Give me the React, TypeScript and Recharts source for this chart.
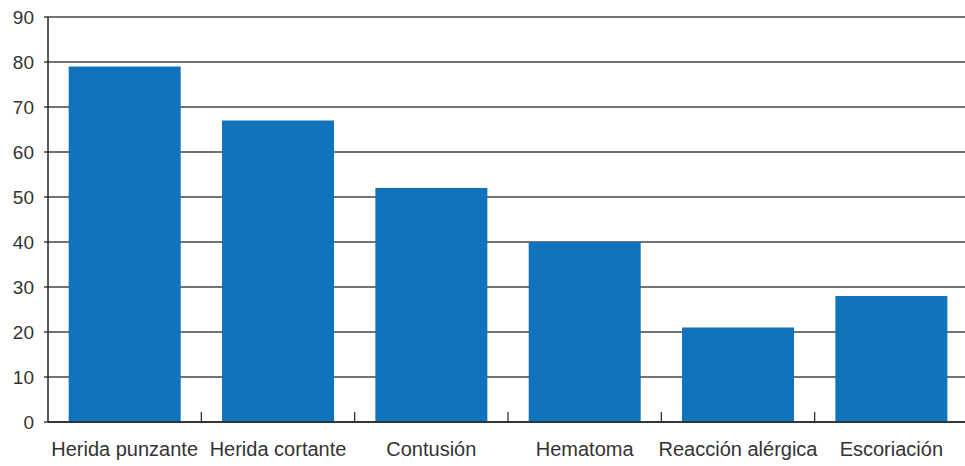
import React from "react";
import { BarChart, Bar, XAxis, YAxis, CartesianGrid } from "recharts";

const categories = [
  "Herida punzante",
  "Herida cortante",
  "Contusión",
  "Hematoma",
  "Reacción alérgica",
  "Escoriación",
];
const values = [79, 67, 52, 40, 21, 28];
const yTicks = [0, 10, 20, 30, 40, 50, 60, 70, 80, 90];

const data = categories.map((name, i) => ({ name, value: values[i] }));

const CHART_W = 968;
const CHART_H = 466;
const Y_W = 48;
const PLOT_BOTTOM = 422;
const STEP = (CHART_W - Y_W) / categories.length;

const XTick = (props: any) => {
  const { x, y, payload, index } = props;
  const bx = x + STEP / 2;
  return (
    <g>
      {index < categories.length - 1 && (
        <line x1={bx} x2={bx} y1={PLOT_BOTTOM} y2={PLOT_BOTTOM - 10} stroke="#333" strokeWidth={1.3} />
      )}
      <text
        x={x}
        y={y}
        dy="0.71em"
        textAnchor="middle"
        fill="#333"
        fontSize={20}
        fontFamily="'Liberation Sans', Arial, sans-serif"
      >
        {payload.value}
      </text>
    </g>
  );
};

export default function App() {
  return (
    <div style={{ position: "absolute", left: 0, top: 0, width: 965, height: 466, overflow: "hidden", background: "#fff" }}>
      <BarChart
        width={CHART_W}
        height={CHART_H}
        data={data}
        margin={{ top: 17, right: 0, bottom: 0, left: 0 }}
        barCategoryGap="13.5%"
      >
        <CartesianGrid vertical={false} stroke="#444" strokeWidth={1.3} />
        <XAxis
          dataKey="name"
          height={44}
          tickLine={false}
          tickSize={0}
          tickMargin={20}
          axisLine={{ stroke: "#222", strokeWidth: 1.5 }}
          tick={<XTick />}
          interval={0}
        />
        <YAxis
          width={Y_W}
          domain={[0, 90]}
          ticks={yTicks}
          interval={0}
          tickSize={4}
          tickMargin={10}
          tickLine={{ stroke: "#222", strokeWidth: 1.3 }}
          axisLine={{ stroke: "#222", strokeWidth: 1.5 }}
          tick={{ fill: "#333", fontSize: 19, fontFamily: "'Liberation Sans', Arial, sans-serif" }}
        />
        <Bar dataKey="value" fill="#1073bb" isAnimationActive={false} />
      </BarChart>
    </div>
  );
}
